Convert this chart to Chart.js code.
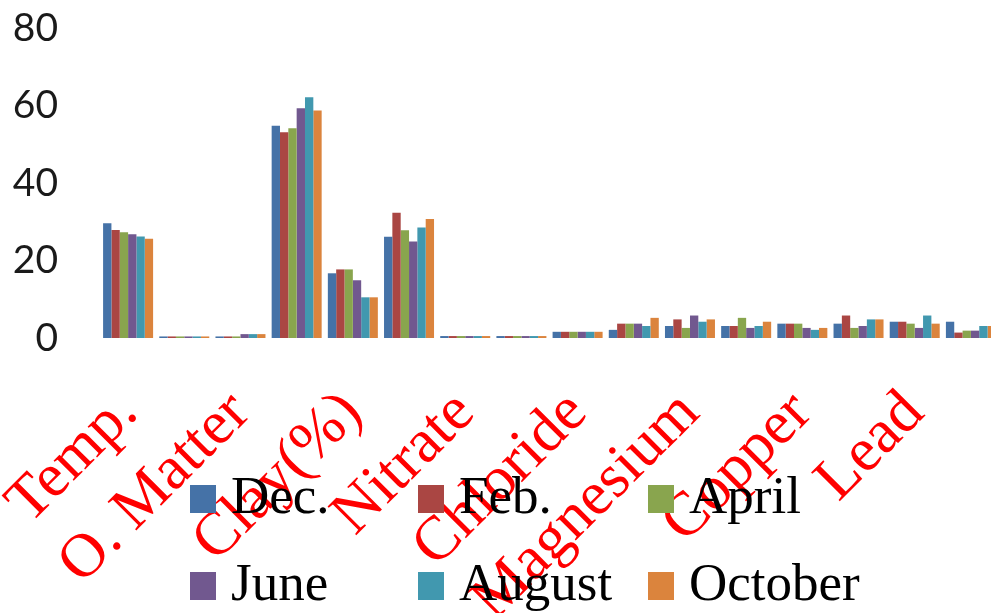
<!DOCTYPE html>
<html>
<head>
<meta charset="utf-8">
<script src="https://cdn.jsdelivr.net/npm/chart.js@4.4.0/dist/chart.umd.min.js"></script>
<style>
  html, body { margin: 0; padding: 0; overflow: hidden; background: #fff; }
  #wrap { width: 1000px; height: 613px; }
</style>
</head>
<body>
<div id="wrap"><canvas id="chart" width="1000" height="613"></canvas></div>
<script>
// only every other category carries a label in the original
const categories = ["Temp.", "", "O. Matter", "", "Clay(%)", "", "Nitrate", "", "Chloride", "", "Magnesium", "", "Copper", "", "Lead", ""];
const months = ["Dec.", "Feb.", "April", "June", "August", "October"];
const yTicks = [0, 20, 40, 60, 80];

const dec = [29.6, 0.4, 0.4, 54.8, 16.7, 26.1, 0.5, 0.5, 1.6, 2.1, 3.1, 3.1, 3.7, 3.7, 4.2, 4.2];
const feb = [27.9, 0.4, 0.4, 53.1, 17.7, 32.3, 0.5, 0.5, 1.6, 3.7, 4.8, 3.1, 3.7, 5.8, 4.2, 1.4];
const april = [27.3, 0.4, 0.4, 54.1, 17.7, 27.8, 0.5, 0.5, 1.6, 3.7, 2.6, 5.2, 3.7, 2.6, 3.7, 1.9];
const june = [26.8, 0.4, 1.0, 59.3, 14.9, 24.9, 0.5, 0.5, 1.6, 3.7, 5.8, 2.6, 2.6, 3.1, 2.6, 1.9];
const august = [26.2, 0.4, 1.0, 62.1, 10.5, 28.5, 0.5, 0.5, 1.6, 3.1, 4.2, 3.1, 2.1, 4.8, 5.8, 3.1];
const october = [25.6, 0.4, 1.0, 58.7, 10.5, 30.7, 0.5, 0.5, 1.6, 5.2, 4.8, 4.2, 2.6, 4.8, 3.7, 3.1];

const seriesValues = [dec, feb, april, june, august, october];
const colors = ["#4572A7", "#AA4643", "#89A54E", "#71588F", "#4198AF", "#DB843D"];

// legend is laid out as a 3x2 grid on top of the rotated labels, like the original
const gridLegend = {
  id: "gridLegend",
  afterDraw(chart) {
    const ctx = chart.ctx;
    const colX = [190, 418, 648];
    const rowY = [485, 572];
    ctx.save();
    ctx.font = '53px "Liberation Serif"';
    ctx.textBaseline = "alphabetic";
    ctx.textAlign = "left";
    chart.data.datasets.forEach((ds, i) => {
      const x = colX[i % 3];
      const y = rowY[Math.floor(i / 3)];
      ctx.fillStyle = ds.backgroundColor;
      ctx.fillRect(x, y, 26, 28);
      ctx.fillStyle = "#000";
      ctx.fillText(ds.label, x + 41, y + 28);
    });
    ctx.restore();
  },
};

const ctx = document.getElementById("chart").getContext("2d");
new Chart(ctx, {
  type: "bar",
  data: {
    labels: categories,
    datasets: months.map((m, i) => ({
      label: m,
      data: seriesValues[i],
      backgroundColor: colors[i],
      borderWidth: 0,
      categoryPercentage: 0.89,
      barPercentage: 1.0,
    })),
  },
  options: {
    responsive: false,
    animation: false,
    layout: { padding: { top: 28, left: 0, right: 1, bottom: 0 } },
    plugins: {
      legend: { display: false },
      tooltip: { enabled: false },
    },
    scales: {
      x: {
        grid: { display: false, drawTicks: false },
        border: { display: false },
        ticks: {
          autoSkip: false,
          minRotation: 45,
          maxRotation: 45,
          padding: 39,
          color: "#ff0000",
          font: { family: '"Liberation Serif", "Times New Roman", serif', size: 62 },
        },
        afterFit(scale) {
          scale.height = 275;
          scale.paddingLeft = 0;
          scale.paddingRight = 0;
        },
      },
      y: {
        min: 0,
        max: 80,
        grid: { display: false, drawTicks: false },
        border: { display: false },
        afterBuildTicks(scale) {
          scale.ticks = yTicks.map((v) => ({ value: v }));
        },
        ticks: {
          padding: 42,
          color: "#1a1a1a",
          font: { family: "Lato, sans-serif", size: 39 },
        },
        afterFit(scale) {
          scale.width = 100;
          scale.paddingTop = 0;
          scale.paddingBottom = 0;
        },
      },
    },
  },
  plugins: [gridLegend],
});
</script>
</body>
</html>
